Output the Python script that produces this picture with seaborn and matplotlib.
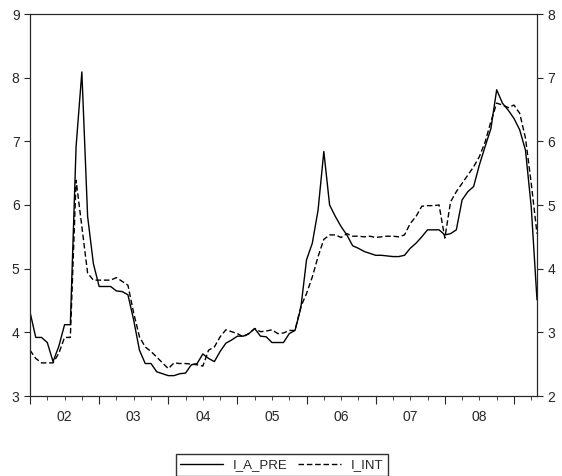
import numpy as np
import pandas as pd
import seaborn as sns
import matplotlib.pyplot as plt

# monthly data, 2002-01 .. 2009-05
i_a_pre = [4.32, 3.92, 3.92, 3.84, 3.54, 3.78, 4.12, 4.12, 6.92, 8.09, 5.82, 5.08,
           4.72, 4.72, 4.72, 4.65, 4.64, 4.59, 4.19, 3.72, 3.51, 3.51, 3.38, 3.35,
           3.32, 3.32, 3.35, 3.36, 3.49, 3.51, 3.66, 3.59, 3.54, 3.70, 3.83, 3.88,
           3.94, 3.94, 3.98, 4.06, 3.94, 3.93, 3.84, 3.84, 3.84, 3.98, 4.03, 4.38,
           5.14, 5.40, 5.92, 6.84, 6.00, 5.82, 5.66, 5.53, 5.36, 5.32, 5.27, 5.24,
           5.21, 5.21, 5.20, 5.19, 5.19, 5.21, 5.32, 5.40, 5.50, 5.61, 5.61, 5.61,
           5.53, 5.55, 5.61, 6.08, 6.21, 6.29, 6.63, 6.92, 7.20, 7.81, 7.60, 7.49,
           7.36, 7.18, 6.86, 5.97, 4.51]
i_int_left = [3.72, 3.59, 3.52, 3.52, 3.52, 3.67, 3.92, 3.92, 6.39, 5.66, 4.93, 4.82,
              4.82, 4.82, 4.82, 4.86, 4.80, 4.74, 4.30, 3.93, 3.77, 3.70, 3.61, 3.52,
              3.43, 3.52, 3.51, 3.51, 3.50, 3.49, 3.47, 3.72, 3.77, 3.93, 4.04, 4.01,
              3.98, 3.93, 3.98, 4.06, 4.01, 4.02, 4.04, 3.98, 3.99, 4.03, 4.03, 4.40,
              4.61, 4.87, 5.19, 5.46, 5.53, 5.53, 5.49, 5.55, 5.51, 5.51, 5.50, 5.51,
              5.49, 5.50, 5.51, 5.51, 5.50, 5.53, 5.71, 5.82, 5.98, 5.99, 5.99, 6.00,
              5.48, 6.05, 6.21, 6.34, 6.47, 6.60, 6.76, 6.99, 7.31, 7.60, 7.57, 7.53,
              7.57, 7.44, 7.05, 6.34, 5.55]
i_int = [v - 1 for v in i_int_left]  # right-axis units
years = ["02", "03", "04", "05", "06", "07", "08"]

t = np.arange(len(i_a_pre))
df = pd.DataFrame({"t": t, "I_A_PRE": i_a_pre, "I_INT": i_int})

sns.set_style("ticks")
plt.rcParams['font.family'] = ['Liberation Sans', 'DejaVu Sans']
fig = plt.figure(figsize=(5.62, 4.76), dpi=100)
ax = fig.add_axes([30/562, 1 - 396/476, 507/562, 382/476])
ax2 = ax.twinx()

sns.lineplot(data=df, x="t", y="I_A_PRE", ax=ax, color="black", lw=1.0, label="I_A_PRE", legend=False)
sns.lineplot(data=df, x="t", y="I_INT", ax=ax2, color="black", lw=1.0, ls=(0, (4, 2)), label="I_INT", legend=False)

ax.set_xlim(0, len(t) - 1)
ax.set_ylim(3, 9)
ax2.set_ylim(2, 8)
ax.set_yticks(range(3, 10))
ax2.set_yticks(range(2, 9))
ax.set_xticks(np.arange(0, len(t), 3), minor=True)
ax.set_xticks(np.arange(0, len(t), 12), minor=False)
ax.set_xticklabels([])
for k, y in enumerate(years):
    ax.text(6 + 12 * k, 2.78, y, ha="center", va="top", fontsize=10)
ax.tick_params(axis="x", which="major", length=6, direction="out")
ax.tick_params(axis="x", which="minor", length=3, direction="out")
ax.tick_params(axis="y", length=4, labelsize=10)
ax2.tick_params(axis="y", length=4, labelsize=10)
ax.set_xlabel("")
ax.set_ylabel("")
ax2.set_ylabel("")
for a in (ax, ax2):
    for s in a.spines.values():
        s.set_linewidth(0.8)

h1, l1 = ax.get_legend_handles_labels()
h2, l2 = ax2.get_legend_handles_labels()
fig.legend(h1 + h2, l1 + l2, loc="center", bbox_to_anchor=(282/562, 1 - 465/476), ncol=2,
           frameon=True, fancybox=False, edgecolor="black", fontsize=9.5, handlelength=3.2,
           borderpad=0.35, columnspacing=0.8)

fig.savefig("out.png", dpi=100)
